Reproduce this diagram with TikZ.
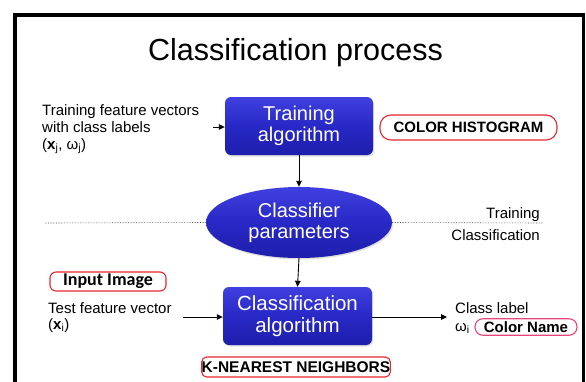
\documentclass[tikz,border=0pt]{standalone}
\usepackage{fontspec}
\setmainfont{Liberation Sans}
\newfontfamily\carlito{Carlito}
\usetikzlibrary{arrows.meta,shapes.geometric,shadows}
\definecolor{boxtop}{HTML}{4040E0}
\definecolor{boxmid}{HTML}{2828C6}
\definecolor{boxbot}{HTML}{1E1EAC}
\definecolor{tagred}{HTML}{E8262E}
\definecolor{tagpink}{HTML}{E8457E}
\tikzset{
  bluebox/.style={draw=none, rounded corners=6pt, top color=boxtop, bottom color=boxbot, middle color=boxmid,
    text=white, align=center, font=\fontsize{20}{21.5}\selectfont,
    drop shadow={opacity=0.25, shadow xshift=1pt, shadow yshift=-1.5pt}},
  blueell/.style={ellipse, draw=none, top color=boxtop, bottom color=boxbot, middle color=boxmid,
    text=white, align=center, font=\fontsize{20}{21}\selectfont, inner sep=0pt,
    drop shadow={opacity=0.25, shadow xshift=1pt, shadow yshift=-1.5pt}},
  plain/.style={font=\fontsize{15}{17}\selectfont, inner sep=0pt, anchor=base west},
  tag/.style={draw=tagred, line width=1.1pt, inner sep=0pt, font=\bfseries\fontsize{15}{15}\selectfont},
  arr/.style={-{Triangle[length=6pt,width=5.5pt]}, line width=0.9pt},
  sep/.style={densely dotted, line width=0.6pt, draw=black!70},
}
\begin{document}
\begin{tikzpicture}[x=1pt,y=-1pt]
\useasboundingbox (0,0) rectangle (586,381);
\fill[white] (0,0) rectangle (586,381);
% frame
\draw[line width=4pt] (15,383) -- (15,14.7) -- (583,14.7);
\draw[line width=2.5pt] (583.5,13) -- (583.5,383);
% title
\node[font=\fontsize{30.5}{30.5}\selectfont, anchor=base, inner sep=0pt] (title) at (295.5,60) {Classification process};
% main nodes
\node[bluebox, minimum width=148pt, minimum height=58pt] (train) at (299,126) {Training\\algorithm};
\node[blueell, minimum width=186pt, minimum height=71pt] (param) at (299,222.5) {Classifier\\parameters};
\node[bluebox, minimum width=149pt, minimum height=58pt, font=\fontsize{20.5}{21.5}\selectfont] (classif) at (297.5,316) {Classification\\algorithm};
% left training text
\node[plain] (tl1) at (42,115) {Training feature vectors};
\node[plain] (tl2) at (42,132) {with class labels};
\node[plain] (tl3) at (42,149) {(\textbf{x}\textsubscript{j}, ω\textsubscript{j})};
\coordinate (tin) at (213,127);
\draw[arr] (tin) -- (train.west |- tin);
% tags
\node[tag, rounded corners=11pt, minimum width=177pt, minimum height=25pt] (hist) at (468.5,127.5) {COLOR HISTOGRAM};
\node[tag, rounded corners=6pt, minimum width=116pt, minimum height=19pt, font=\carlito\bfseries\fontsize{18}{18}\selectfont] (input) at (108,281.5) {Input Image};
\node[tag, rounded corners=5pt, minimum width=188pt, minimum height=20pt, font=\bfseries\fontsize{15.5}{15.5}\selectfont] (knn) at (296,367) {K-NEAREST NEIGHBORS};
\node[tag, draw=tagpink, rounded corners=8pt, minimum width=102pt, minimum height=16.5pt] (cname) at (526,327) {Color Name};
% vertical arrows
\draw[arr] (train.south) -- (param.north);
\draw[arr] (param.south) -- (classif.north);
% separator
\coordinate (sepL) at (45,223);
\coordinate (sepR) at (543,223);
\draw[sep] (sepL) -- (param.west);
\draw[sep] (param.east) -- (sepR);
\node[font=\fontsize{15}{15}\selectfont, anchor=base east, inner sep=0pt] (trl) at (540,218) {Training};
\node[font=\fontsize{15}{15}\selectfont, anchor=base east, inner sep=0pt] (cll) at (540,240) {Classification};
% test text
\node[plain] (te1) at (48,313) {Test feature vector};
\node[plain] (te2) at (48,329) {(\textbf{x}\textsubscript{i})};
\coordinate (cin) at (183,317);
\draw[arr] (cin) -- (classif.west |- cin);
% output
\coordinate (cout) at (447,317);
\draw[arr] (classif.east |- cout) -- (cout);
\node[plain] (ol1) at (455,313) {Class label};
\node[plain] (ol2) at (455,331) {ω\textsubscript{i}};
\end{tikzpicture}
\end{document}
